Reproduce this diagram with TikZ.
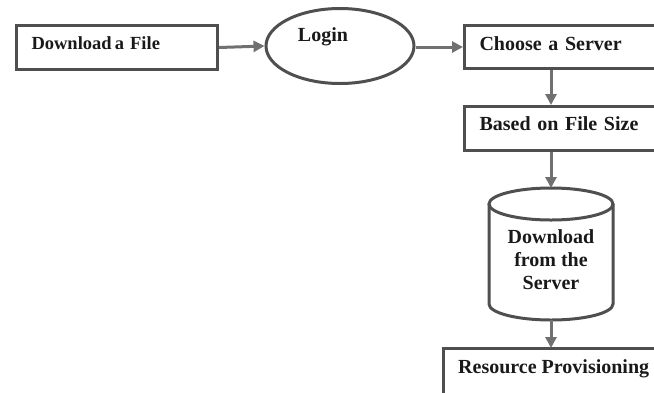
\documentclass[tikz,border=0pt]{standalone}
\usepackage{fontspec}
\setmainfont{Liberation Serif}
\usetikzlibrary{shapes.geometric,arrows.meta,calc}
\definecolor{boxgray}{HTML}{4F4F4F}
\definecolor{arrgray}{HTML}{707070}
\begin{document}
\begin{tikzpicture}[x=1pt,y=-1pt,
  txt/.style={font=\bfseries\fontsize{20}{23}\selectfont, text=black!90, inner sep=0pt},
  box/.style={txt, draw=boxgray, line width=3pt, anchor=north west, inner xsep=15pt, inner ysep=0pt, align=left},
  boxline/.style={draw=boxgray, line width=3pt},
  arr/.style={draw=arrgray, line width=3pt, -{Triangle[length=11pt,width=11pt]}}]
\useasboundingbox (0,0) rectangle (654,392);
\clip (0,0) rectangle (654,392);
% boxes
\node[box, text width=171pt, minimum height=44pt, font=\bfseries\fontsize{18.5}{22}\selectfont] (dl) at (15,24) {\raisebox{9pt}{Download\,a File}};
\node[draw=boxgray, line width=3pt, ellipse, minimum width=148pt, minimum height=75pt] (login) at (340,46) {};
\node[txt] (logintxt) at (323,37) {Login};
\node[box, text width=220pt, minimum height=43pt] (cs) at (463,24) {\raisebox{7pt}{Choose a Server}};
\node[box, text width=220pt, minimum height=44pt] (bs) at (463,105) {\raisebox{9pt}{Based on File Size}};
% cylinder
\coordinate (cyltop) at (551,188);
\coordinate (cylbot) at (551,320);
\draw[boxline] (489,204) -- (489,304) arc[start angle=180, end angle=0, x radius=62, y radius=16] -- (613,204);
\draw[boxline] (551,204) ellipse [x radius=62, y radius=16];
\node[txt, align=center] (cyltxt) at (551,260) {Download\\from the\\Server};
% last box
\coordinate (rpcorner) at (443,348);
\draw[boxline] (443,400) |- (700,348);
\node[txt, anchor=west] (rp) at (458,369) {Resource Provisioning};
% arrows
\draw[arr] (dl.east) -- (login.west);
\draw[arr] (login.east |- cs.west) -- (cs.west);
\draw[arr] (cs.south -| cyltop) -- (bs.north -| cyltop);
\draw[arr] (bs.south -| cyltop) -- (cyltop);
\draw[arr] (cylbot) -- (rpcorner -| cylbot);
\end{tikzpicture}
\end{document}
